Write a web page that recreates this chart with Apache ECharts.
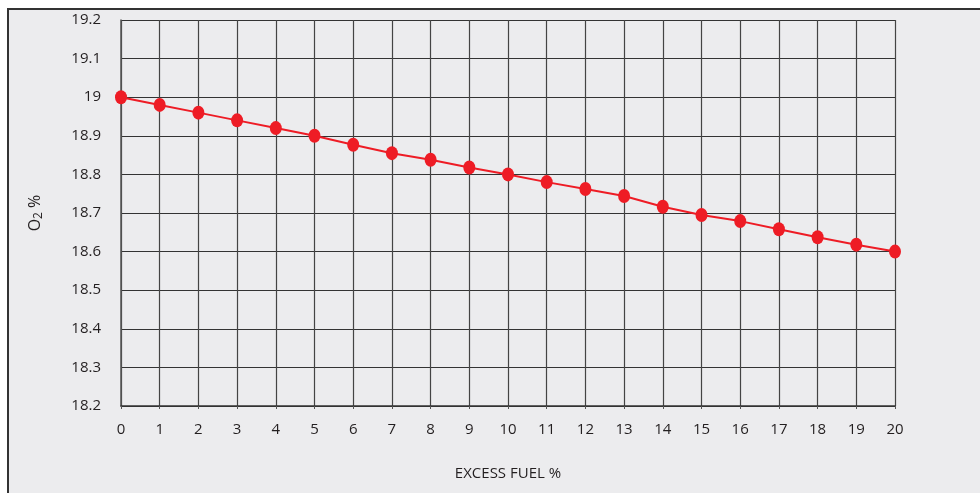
<!DOCTYPE html>
<html><head><meta charset="utf-8">
<script src="https://cdn.jsdelivr.net/npm/echarts@6/dist/echarts.min.js"></script>
<style>html,body{margin:0;padding:0;background:#fff}#c{width:980px;height:493px}</style>
</head><body><div id="c"></div>
<script>
const categories = ['0','1','2','3','4','5','6','7','8','9','10','11','12','13','14','15','16','17','18','19','20'];
const o2Values = [19.00, 18.98, 18.96, 18.94, 18.92, 18.90, 18.877, 18.855, 18.838, 18.818, 18.80, 18.78, 18.762, 18.744, 18.716, 18.695, 18.679, 18.658, 18.637, 18.618, 18.60];
const yTicks = [18.2, 18.3, 18.4, 18.5, 18.6, 18.7, 18.8, 18.9, 19, 19.1, 19.2];

const chart = echarts.init(document.getElementById('c'));
const font = '"Open Sans", "Noto Sans", sans-serif';
const txt = '#231F20';
chart.setOption({
  backgroundColor: '#ffffff',
  animation: false,
  graphic: [{
    type: 'rect', z: -10, silent: true,
    shape: { x: 8, y: 9, width: 1100, height: 600 },
    style: { fill: '#ECECEE', stroke: '#333', lineWidth: 2 }
  }],
  grid: { left: 121, right: 85, top: 20, bottom: 87 },
  xAxis: {
    type: 'category', data: categories, boundaryGap: false,
    name: 'EXCESS FUEL %', nameLocation: 'middle', nameGap: 60,
    nameTextStyle: { fontFamily: font, fontSize: 15, color: txt },
    axisLine: { show: true, lineStyle: { color: '#333', width: 1.5 } },
    axisTick: { show: true, length: 3, inside: false, alignWithLabel: true, lineStyle: { color: '#555' } },
    axisLabel: { fontFamily: font, fontSize: 15, color: txt, margin: 16 },
    splitLine: { show: true, lineStyle: { color: '#444', width: 1.2 } }
  },
  yAxis: {
    type: 'value', min: 18.2, max: 19.2, interval: 0.1,
    name: 'O{sub|2} %', nameLocation: 'middle', nameGap: 76, nameRotate: 90,
    nameTextStyle: { fontFamily: font, fontSize: 16, color: txt,
      rich: { sub: { fontFamily: font, fontSize: 12, color: txt, verticalAlign: 'bottom', padding: [7,0,0,0] } } },
    axisLine: { show: true, lineStyle: { color: '#555', width: 1.5 } },
    axisTick: { show: false },
    axisLabel: { fontFamily: font, fontSize: 15, color: txt, margin: 20,
      formatter: v => { const t = yTicks.find(x => Math.abs(x - v) < 1e-6); return t === undefined ? '' : String(t); } },
    splitLine: { show: true, lineStyle: { color: '#333', width: 1.2 } }
  },
  series: [{
    type: 'line', data: o2Values,
    lineStyle: { color: '#EE1C25', width: 2 },
    itemStyle: { color: '#EE1C25' },
    symbol: 'circle', symbolSize: [12, 14], showSymbol: true
  }]
});
</script></body></html>
